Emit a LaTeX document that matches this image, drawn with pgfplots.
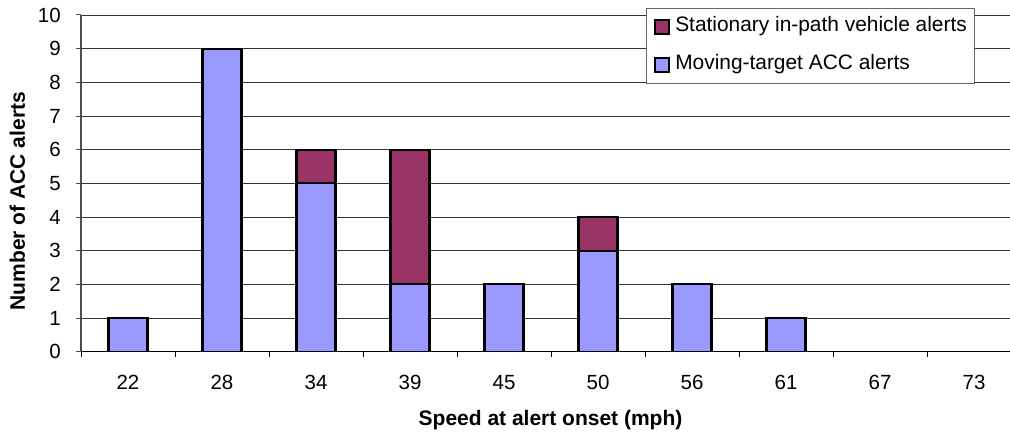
\documentclass[border=0pt]{standalone}
\usepackage{fontspec}
\setmainfont{Liberation Sans}
\usepackage{pgfplots}
\pgfplotsset{compat=1.18}
\definecolor{movblue}{HTML}{9999FF}
\definecolor{statred}{HTML}{993366}
\begin{document}
\begin{tikzpicture}
\begin{axis}[
  at={(81bp,84.3bp)}, anchor=south west,
  scale only axis, width=929bp, height=336.7bp,
  xmin=-0.5, xmax=9.383, ymin=0, ymax=10,
  ybar stacked, bar width=0.415,
  axis x line*=bottom, axis y line*=left,
  x axis line style={black, line width=1.2bp},
  y axis line style={black!70, line width=1.2bp},
  xtick={0,...,9},
  xticklabels={22,28,34,39,45,50,56,61,67,73},
  major x tick style={draw=none},
  minor xtick={-0.5,0.5,...,8.5},
  minor x tick style={black, line width=1bp},
  ytick={0,...,10},
  ytick style={black!70, line width=1bp},
  tick align=outside,
  major tick length=5bp, minor tick length=5bp,
  ymajorgrids,
  major grid style={black!80, line width=0.9bp},
  /pgf/number format/assume math mode=true,
  tick label style={font=\fontsize{20.5bp}{24bp}\selectfont},
  yticklabel style={anchor=east, inner sep=0pt, xshift=-15bp},
  xticklabel style={anchor=center, inner sep=0pt, yshift=-26bp},
  xlabel={Speed at alert onset (mph)},
  xlabel style={at={(axis description cs:0.5054,-0.2028)}, anchor=center, font=\fontsize{21bp}{24bp}\selectfont\bfseries},
  ylabel={Number of ACC alerts},
  ylabel style={at={(axis description cs:-0.0684,0.447)}, anchor=center, font=\fontsize{21bp}{24bp}\selectfont\bfseries},
  legend style={at={(0.6082,1.0208)}, anchor=north west, draw=black!60, line width=0.8bp, fill=white,
    inner xsep=8bp, inner ysep=8.5bp, row sep=18bp,
    nodes={inner sep=0pt, text height=15bp, text depth=5bp, font=\fontsize{20.9bp}{24bp}\selectfont},
    cells={anchor=west}},
  legend image code/.code={\draw[#1, line width=1.5bp] (0bp,-7bp) rectangle (14bp,7bp); \path (19bp,0bp);},
  reverse legend,
]
\addplot[fill=movblue, draw=black, line width=2.2bp] coordinates {
  (0,1) (1,9) (2,5) (3,2) (4,2) (5,3) (6,2) (7,1) (8,0) (9,0)};
\addlegendentry{Moving-target ACC alerts}
\addplot[fill=statred, draw=black, line width=2.2bp] coordinates {
  (0,0) (1,0) (2,1) (3,4) (4,0) (5,1) (6,0) (7,0) (8,0) (9,0)};
\addlegendentry{Stationary in-path vehicle alerts}
\end{axis}
\pgfresetboundingbox
\path[use as bounding box] (0,0) rectangle (1010bp,436bp);
\end{tikzpicture}
\end{document}
